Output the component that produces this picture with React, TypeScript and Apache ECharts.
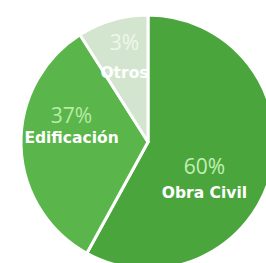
import React, { useEffect, useRef } from "react";
import * as echarts from "echarts";

const categories = ["Obra Civil", "Edificación", "Otros"];
const values = [58, 33, 9];
const percentLabels = ["60%", "37%", "3%"];

const colors = ["#4aa63c", "#5ab64a", "#d3e5ce"];
const labelOffsets: [number, number][] = [[-8, 21], [-10, -18], [-5, -21]];
const lineGaps = [27, 23, 31];
const pctColors = ["#c4efb4", "#b8eca6", "#eef7ec"];

export default function App() {
  const ref = useRef<HTMLDivElement>(null);
  useEffect(() => {
    if (!ref.current) return;
    const chart = echarts.init(ref.current, null, { renderer: "svg" });
    chart.setOption({
      animation: false,
      backgroundColor: "#ffffff",
      series: [
        {
          type: "pie",
          center: [148, 142],
          radius: [0, 127],
          startAngle: 90,
          clockwise: true,
          silent: true,
          itemStyle: { borderColor: "#ffffff", borderWidth: 3 },
          labelLine: { show: false },
          data: categories.map((name, i) => ({
            name,
            value: values[i],
            itemStyle: { color: colors[i] },
            label: {
              show: true,
              position: "inside",
              offset: labelOffsets[i],
              formatter: () => `{p|${percentLabels[i]}}\n{n|${name}}`,
              rich: {
                p: {
                  fontFamily: "Open Sans",
                  fontSize: 21,
                  fontWeight: 400,
                  color: pctColors[i],
                  lineHeight: lineGaps[i],
                  align: "center",
                },
                n: {
                  fontFamily: "DejaVu Sans",
                  fontSize: 15.5,
                  fontWeight: 700,
                  color: "#ffffff",
                  lineHeight: lineGaps[i],
                  align: "center",
                },
              },
            },
          })),
        },
      ],
    });
    return () => chart.dispose();
  }, []);
  return (
    <div
      ref={ref}
      style={{ position: "fixed", left: 0, top: 0, width: 266, height: 263 }}
    />
  );
}
